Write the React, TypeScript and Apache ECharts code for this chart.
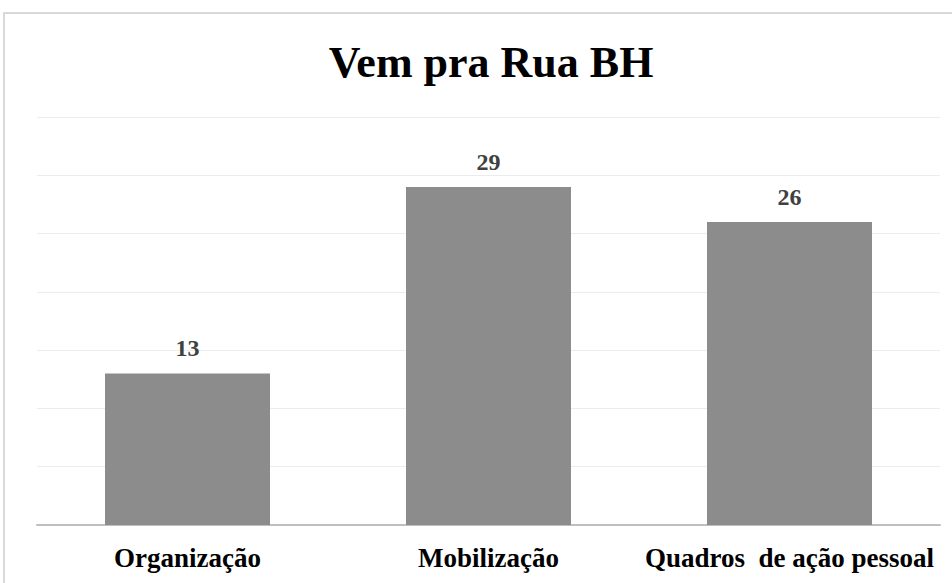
import React, { useEffect, useRef } from "react";
import * as echarts from "echarts";

const categories = ["Organização", "Mobilização", "Quadros  de ação pessoal"];
const values = [13, 29, 26];
const titleText = "Vem pra Rua BH";

const FONT = "'Liberation Serif', 'Times New Roman', serif";

export default function App() {
  const ref = useRef<HTMLDivElement>(null);
  useEffect(() => {
    if (!ref.current) return;
    const chart = echarts.init(ref.current, null, { renderer: "svg" });
    chart.setOption({
      animation: false,
      backgroundColor: "#ffffff",
      title: {
        text: titleText,
        left: 486,
        textAlign: "center",
        top: 35,
        textStyle: { fontFamily: FONT, fontWeight: "bold", fontSize: 44, color: "#000000" },
      },
      graphic: [
        {
          type: "rect",
          shape: { x: 4, y: 13, width: 980, height: 620 },
          style: { fill: "none", stroke: "#d9d9d9", lineWidth: 2 },
          silent: true,
          z: -1,
        },
      ],
      grid: { left: 37, right: 12, top: 117, bottom: 58 },
      xAxis: {
        type: "category",
        data: categories,
        axisLine: { lineStyle: { color: "#bfbfbf", width: 2 } },
        axisTick: { show: false },
        axisLabel: {
          interval: 0,
          margin: 19,
          fontFamily: FONT,
          fontWeight: "bold",
          fontSize: 27,
          color: "#000000",
        },
      },
      yAxis: {
        type: "value",
        min: 0,
        max: 35,
        interval: 5,
        axisLabel: { show: false },
        axisLine: { show: false },
        axisTick: { show: false },
        splitLine: { lineStyle: { color: "#ececec", width: 1 } },
      },
      series: [
        {
          type: "bar",
          data: values,
          barWidth: 165,
          itemStyle: { color: "#8c8c8c" },
          label: {
            show: true,
            position: "top",
            distance: 13,
            fontFamily: FONT,
            fontWeight: "bold",
            fontSize: 24,
            color: "#404040",
          },
        },
      ],
    });
    return () => chart.dispose();
  }, []);
  return (
    <div
      ref={ref}
      style={{ position: "absolute", left: 0, top: 0, width: 952, height: 583 }}
    />
  );
}
